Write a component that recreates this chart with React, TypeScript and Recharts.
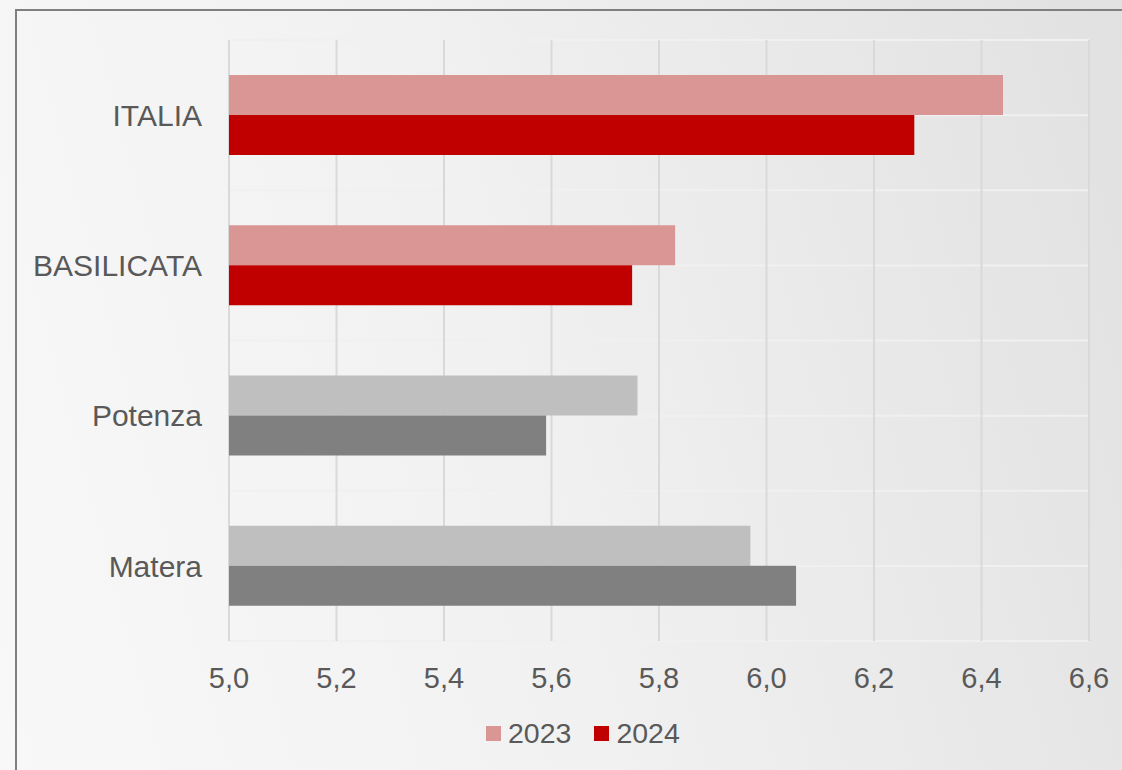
import { Bar, BarChart, CartesianGrid, Cell, Legend, XAxis, YAxis } from "recharts";

const categories = ["ITALIA", "BASILICATA", "Potenza", "Matera"];
const values2023 = [6.44, 5.83, 5.76, 5.97];
const values2024 = [6.275, 5.75, 5.59, 6.055];
const xTicks = [5.0, 5.2, 5.4, 5.6, 5.8, 6.0, 6.2, 6.4, 6.6];

// the two aggregate rows are drawn in red, the provinces in grey
const highlighted = ["ITALIA", "BASILICATA"];
const COLORS = {
  light: { hi: "#D99694", lo: "#BFBFBF" },
  dark: { hi: "#C00000", lo: "#808080" },
};

const data = categories.map((name, i) => ({
  name,
  y2023: values2023[i],
  y2024: values2024[i],
}));

const TEXT = "#595959";
const FONT = "'Liberation Sans', Arial, sans-serif";

const fmt = (v: number) => v.toFixed(1).replace(".", ",");

function LegendContent() {
  const items = [
    { label: "2023", color: COLORS.light.hi },
    { label: "2024", color: COLORS.dark.hi },
  ];
  return (
    <div style={{ display: "flex", alignItems: "center", fontFamily: FONT, fontSize: 28.5, color: TEXT }}>
      {items.map((it, i) => (
        <div key={it.label} style={{ display: "flex", alignItems: "center", marginLeft: i ? 23 : 0 }}>
          <span style={{ width: 15, height: 15, background: it.color, display: "inline-block", marginRight: 7 }} />
          <span style={{ lineHeight: "30px" }}>{it.label}</span>
        </div>
      ))}
    </div>
  );
}

export default function App() {
  return (
    <div
      style={{
        position: "fixed",
        left: 0,
        top: 0,
        width: 1122,
        height: 770,
        overflow: "hidden",
        background: "linear-gradient(75deg, #f8f8f8 0%, #f1f1f1 45%, #e1e1e1 100%)",
      }}
    >
      <div
        style={{
          position: "absolute",
          left: 15,
          top: 9,
          width: 1200,
          height: 900,
          border: "2px solid #7f7f7f",
          boxSizing: "border-box",
        }}
      />
      <div style={{ position: "absolute", left: 0, top: 0 }}>
        <BarChart
          width={1122}
          height={770}
          data={data}
          layout="vertical"
          margin={{ top: 40, right: 33, bottom: 69, left: 0 }}
          barSize={40}
          barGap={0}
        >
          <CartesianGrid
            vertical={false}
            stroke="#f0f0f0"
            strokeWidth={2}
            horizontalCoordinatesGenerator={({ offset }: any) =>
              Array.from({ length: categories.length * 2 + 1 }, (_, i) => offset.top + (i * offset.height) / (categories.length * 2))
            }
          />
          <CartesianGrid horizontal={false} stroke="#d9d9d9" strokeWidth={2} />
          <XAxis
            type="number"
            domain={[5, 6.6]}
            ticks={xTicks}
            tickFormatter={fmt}
            axisLine={false}
            tickLine={false}
            tickSize={0}
            tickMargin={26}
            height={60}
            interval={0}
            tick={{ fill: TEXT, fontSize: 29, fontFamily: FONT }}
          />
          <YAxis
            type="category"
            dataKey="name"
            width={229}
            axisLine={false}
            tickLine={false}
            tickSize={0}
            tickMargin={27}
            tick={{ fill: TEXT, fontSize: 30, fontFamily: FONT }}
          />
          <Legend
            layout="horizontal"
            verticalAlign="middle"
            align="center"
            content={() => <LegendContent />}
            wrapperStyle={{ top: 718, left: 486, width: 260 }}
          />
          <Bar dataKey="y2023" name="2023" isAnimationActive={false}>
            {data.map((d) => (
              <Cell key={d.name} fill={highlighted.includes(d.name) ? COLORS.light.hi : COLORS.light.lo} />
            ))}
          </Bar>
          <Bar dataKey="y2024" name="2024" isAnimationActive={false}>
            {data.map((d) => (
              <Cell key={d.name} fill={highlighted.includes(d.name) ? COLORS.dark.hi : COLORS.dark.lo} />
            ))}
          </Bar>
        </BarChart>
      </div>
    </div>
  );
}
